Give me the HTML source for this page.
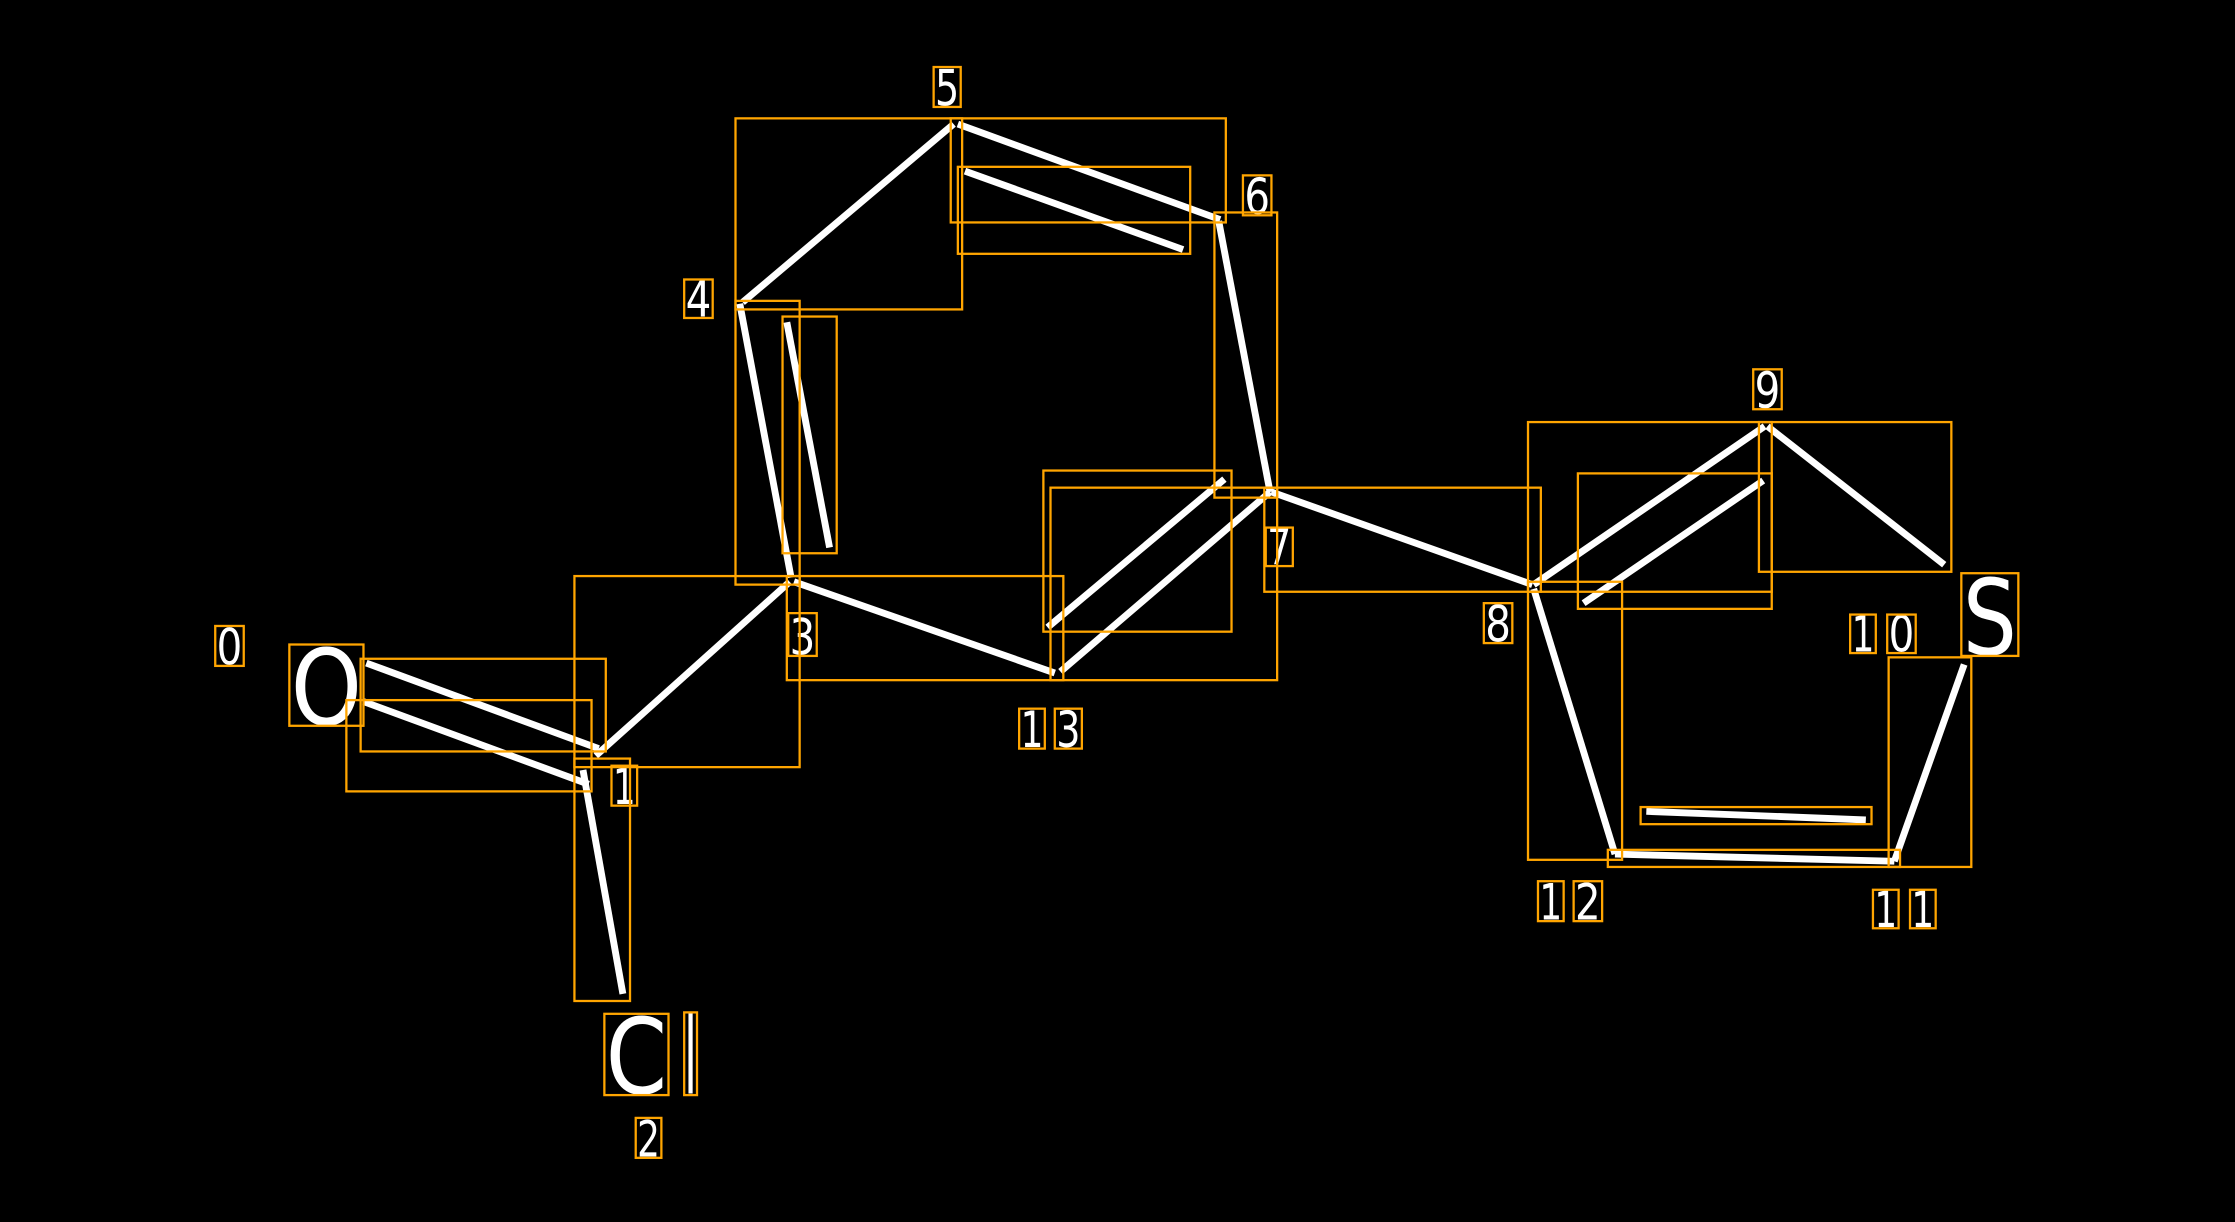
<!DOCTYPE html>
<html><head><meta charset="utf-8"><style>
html,body{margin:0;padding:0;background:#000;width:2235px;height:1222px;overflow:hidden}
svg{display:block}
text{font-family:"DejaVu Sans","Liberation Sans",sans-serif;fill:#fff}
</style></head><body>
<svg width="2235" height="1222" viewBox="0 0 1568 857" preserveAspectRatio="none">
<rect x="0" y="0" width="1568" height="857" fill="#000"/>
<g stroke="#fff" stroke-width="4.8" fill="none">
<line x1="257" y1="465" x2="420" y2="525"/>
<line x1="255" y1="492" x2="413" y2="550"/>
<line x1="409" y1="540" x2="437" y2="697"/>
<line x1="418" y1="530" x2="554" y2="408"/>
<line x1="555" y1="405" x2="519" y2="213"/>
<line x1="552" y1="226" x2="582" y2="384"/>
<line x1="521" y1="212" x2="669" y2="87"/>
<line x1="672" y1="87" x2="856" y2="154"/>
<line x1="677" y1="120" x2="830" y2="175"/>
<line x1="855" y1="155" x2="891" y2="345"/>
<line x1="891" y1="345" x2="744" y2="471"/>
<line x1="859" y1="336" x2="735" y2="440"/>
<line x1="740" y1="472" x2="557" y2="408"/>
<line x1="892" y1="345" x2="1075" y2="410"/>
<line x1="1076" y1="410" x2="1238" y2="299"/>
<line x1="1111" y1="423" x2="1237" y2="337"/>
<line x1="1240" y1="299" x2="1364" y2="396"/>
<line x1="1378" y1="466" x2="1329" y2="604"/>
<line x1="1329" y1="604" x2="1133" y2="599"/>
<line x1="1155" y1="569" x2="1309" y2="575"/>
<line x1="1133" y1="599" x2="1076" y2="413"/>
</g>
<g font-size="35" lengthAdjust="spacingAndGlyphs">
<text x="152" y="466" textLength="18" lengthAdjust="spacingAndGlyphs">0</text>
<text x="430" y="564" textLength="16" lengthAdjust="spacingAndGlyphs">1</text>
<text x="447" y="811" textLength="16" lengthAdjust="spacingAndGlyphs">2</text>
<text x="554" y="459" textLength="18" lengthAdjust="spacingAndGlyphs">3</text>
<text x="481" y="222" textLength="18" lengthAdjust="spacingAndGlyphs">4</text>
<text x="656" y="74" textLength="17" lengthAdjust="spacingAndGlyphs">5</text>
<text x="873" y="150" textLength="18" lengthAdjust="spacingAndGlyphs">6</text>
<text x="889" y="396" textLength="17" lengthAdjust="spacingAndGlyphs">7</text>
<text x="1042" y="450" textLength="18" lengthAdjust="spacingAndGlyphs">8</text>
<text x="1231" y="286" textLength="18" lengthAdjust="spacingAndGlyphs">9</text>
<text x="1299" y="457" textLength="16" lengthAdjust="spacingAndGlyphs">1</text>
<text x="1325" y="457" textLength="18" lengthAdjust="spacingAndGlyphs">0</text>
<text x="1315" y="650" textLength="16" lengthAdjust="spacingAndGlyphs">1</text>
<text x="1341" y="650" textLength="16" lengthAdjust="spacingAndGlyphs">1</text>
<text x="1080" y="645" textLength="16" lengthAdjust="spacingAndGlyphs">1</text>
<text x="1105" y="645" textLength="18" lengthAdjust="spacingAndGlyphs">2</text>
<text x="716" y="524" textLength="16" lengthAdjust="spacingAndGlyphs">1</text>
<text x="741" y="524" textLength="17" lengthAdjust="spacingAndGlyphs">3</text>
</g>
<g font-size="74">
<text x="204" y="508" textLength="50" lengthAdjust="spacingAndGlyphs">O</text>
<text x="1377" y="459" textLength="38" lengthAdjust="spacingAndGlyphs">S</text>
<text x="425" y="767" textLength="43" lengthAdjust="spacingAndGlyphs">C</text>
<text x="480" y="767" textLength="9" lengthAdjust="spacingAndGlyphs">l</text>
</g>
<g stroke="#FFA500" stroke-width="1.6" fill="none">
<rect x="151" y="439" width="20" height="28"/>
<rect x="203" y="452" width="52" height="57"/>
<rect x="429" y="537" width="18" height="28"/>
<rect x="424" y="711" width="45" height="57"/>
<rect x="480" y="710" width="9" height="58"/>
<rect x="446" y="784" width="18" height="28"/>
<rect x="553" y="430" width="20" height="30"/>
<rect x="480" y="196" width="20" height="27"/>
<rect x="655" y="47" width="19" height="28"/>
<rect x="872" y="123" width="20" height="28"/>
<rect x="888" y="370" width="19" height="27"/>
<rect x="1041" y="423" width="20" height="28"/>
<rect x="1230" y="259" width="20" height="28"/>
<rect x="1298" y="431" width="18" height="27"/>
<rect x="1324" y="431" width="20" height="27"/>
<rect x="1376" y="402" width="40" height="58"/>
<rect x="1314" y="624" width="18" height="27"/>
<rect x="1340" y="624" width="18" height="27"/>
<rect x="1079" y="618" width="18" height="28"/>
<rect x="1104" y="618" width="20" height="28"/>
<rect x="715" y="497" width="18" height="28"/>
<rect x="740" y="497" width="19" height="28"/>
<rect x="253" y="462" width="172" height="65"/>
<rect x="243" y="491" width="172" height="64"/>
<rect x="403" y="532" width="39" height="170"/>
<rect x="403" y="404" width="158" height="134"/>
<rect x="516" y="211" width="45" height="199"/>
<rect x="549" y="222" width="38" height="166"/>
<rect x="516" y="83" width="159" height="134"/>
<rect x="667" y="83" width="193" height="73"/>
<rect x="672" y="117" width="163" height="61"/>
<rect x="852" y="149" width="44" height="200"/>
<rect x="737" y="342" width="159" height="135"/>
<rect x="732" y="330" width="132" height="113"/>
<rect x="552" y="404" width="194" height="73"/>
<rect x="887" y="342" width="194" height="73"/>
<rect x="1072" y="296" width="171" height="119"/>
<rect x="1107" y="332" width="136" height="95"/>
<rect x="1234" y="296" width="135" height="105"/>
<rect x="1325" y="461" width="58" height="147"/>
<rect x="1128" y="596" width="205" height="12"/>
<rect x="1151" y="566" width="162" height="12"/>
<rect x="1072" y="408" width="66" height="195"/>
</g>
</svg>
</body></html>
